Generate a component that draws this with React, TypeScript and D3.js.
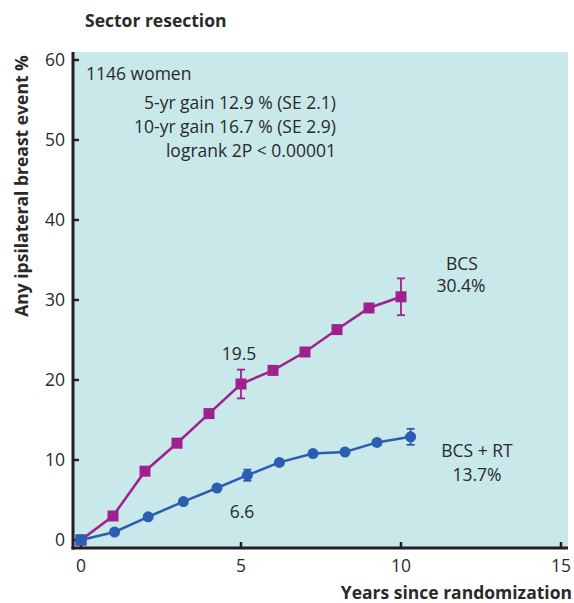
import React from "react";
import * as d3 from "d3";

// Cumulative risk of any ipsilateral breast event (%) by years since randomization
const bcsYears = [0, 1, 2, 3, 4, 5, 6, 7, 8, 9, 10];
const bcsValues = [0, 3.0, 8.6, 12.1, 15.8, 19.5, 21.2, 23.5, 26.3, 29.0, 30.4];
const rtYears = [0, 1.05, 2.1, 3.2, 4.25, 5.2, 6.2, 7.25, 8.25, 9.25, 10.3];
const rtValues = [0, 1.0, 2.9, 4.8, 6.5, 8.1, 9.7, 10.8, 11.0, 12.2, 12.9];

// Error bars (value ± SE) at 5 and 10 years
const bcsErrIdx = [5, 10];
const bcsErr = [1.8, 2.3];
const rtErrIdx = [5, 10];
const rtErr = [0.7, 1.0];

const xTicks = [0, 5, 10, 15];
const yTicks = [0, 10, 20, 30, 40, 50, 60];

const statLines = [
  "5-yr gain 12.9 % (SE 2.1)",
  "10-yr gain 16.7 % (SE 2.9)",
  "logrank 2P < 0.00001",
];

const W = 574;
const H = 603;
const FONT = "'Open Sans', 'Noto Sans', sans-serif";
const FS = 17.5;
const BG = "#c8e8ea";
const MAGENTA = "#a0208e";
const BLUE = "#2b5db2";
const INK = "#2a2a2a";
const AXIS = "#231f20";

export default function App() {
  const x = d3.scaleLinear().domain([0, 15]).range([81, 561]);
  const y = d3.scaleLinear().domain([0, 60]).range([540, 60]);

  const plotLeft = 73;
  const plotRight = 568;
  const plotTop = 52;
  const plotBottom = 548;

  const line = d3
    .line<[number, number]>()
    .x((d) => x(d[0]))
    .y((d) => y(d[1]));

  const bcsPts: [number, number][] = bcsYears.map((t, i) => [t, bcsValues[i]]);
  const rtPts: [number, number][] = rtYears.map((t, i) => [t, rtValues[i]]);

  const sq = 11;
  const r = 5.5;

  return (
    <svg
      width={W}
      height={H}
      style={{ position: "absolute", left: 0, top: 0, fontFamily: FONT }}
    >
      <rect width={W} height={H} fill="#ffffff" />
      <text x={85} y={27} fontSize={FS} fontWeight={700} fill={INK}>
        Sector resection
      </text>

      <rect
        x={plotLeft}
        y={plotTop}
        width={plotRight - plotLeft}
        height={plotBottom - plotTop}
        fill={BG}
      />

      {/* axes */}
      <line x1={plotLeft} x2={plotLeft} y1={plotTop} y2={plotBottom + 1.5} stroke={AXIS} strokeWidth={3} />
      <line x1={plotLeft - 1.5} x2={plotRight} y1={plotBottom} y2={plotBottom} stroke={AXIS} strokeWidth={3} />

      {yTicks.map((t) => (
        <g key={"y" + t}>
          <line x1={plotLeft} x2={plotLeft + 6} y1={y(t)} y2={y(t)} stroke={AXIS} strokeWidth={2.5} />
          <text x={65} y={y(t)} dy="0.36em" textAnchor="end" fontSize={FS} fill={INK}>
            {t}
          </text>
        </g>
      ))}
      {xTicks.map((t) => (
        <g key={"x" + t}>
          <line x1={x(t)} x2={x(t)} y1={plotBottom} y2={plotBottom - 6} stroke={AXIS} strokeWidth={2.5} />
          <text x={x(t)} y={572} textAnchor="middle" fontSize={FS} fill={INK}>
            {t}
          </text>
        </g>
      ))}

      <text
        transform={`translate(28,186) rotate(-90)`}
        textAnchor="middle"
        fontSize={FS}
        fontWeight={700}
        fill={INK}
      >
        Any ipsilateral breast event %
      </text>
      <text x={572} y={599} textAnchor="end" fontSize={FS} fontWeight={700} fill={INK}>
        Years since randomization
      </text>

      {/* annotations */}
      <text x={86} y={80} fontSize={FS} fill={INK}>
        1146 women
      </text>
      {statLines.map((s, i) => (
        <text key={s} x={336} y={109 + i * 24} textAnchor="end" fontSize={FS} fill={INK}>
          {s}
        </text>
      ))}

      {/* BCS series */}
      <path d={line(bcsPts) || ""} fill="none" stroke={MAGENTA} strokeWidth={2.5} />
      {bcsErrIdx.map((idx, k) => {
        const cx = x(bcsYears[idx]);
        const y1 = y(bcsValues[idx] + bcsErr[k]);
        const y2 = y(bcsValues[idx] - bcsErr[k]);
        return (
          <g key={"be" + idx} stroke={MAGENTA} strokeWidth={1.8}>
            <line x1={cx} x2={cx} y1={y1} y2={y2} />
            <line x1={cx - 4} x2={cx + 4} y1={y1} y2={y1} />
            <line x1={cx - 4} x2={cx + 4} y1={y2} y2={y2} />
          </g>
        );
      })}
      {bcsPts.map((p, i) => (
        <rect
          key={"bs" + i}
          x={x(p[0]) - sq / 2}
          y={y(p[1]) - sq / 2}
          width={sq}
          height={sq}
          fill={MAGENTA}
        />
      ))}

      {/* BCS + RT series */}
      <path d={line(rtPts) || ""} fill="none" stroke={BLUE} strokeWidth={2.5} />
      {rtErrIdx.map((idx, k) => {
        const cx = x(rtYears[idx]);
        const y1 = y(rtValues[idx] + rtErr[k]);
        const y2 = y(rtValues[idx] - rtErr[k]);
        return (
          <g key={"re" + idx} stroke={BLUE} strokeWidth={1.8}>
            <line x1={cx} x2={cx} y1={y1} y2={y2} />
            <line x1={cx - 4} x2={cx + 4} y1={y1} y2={y1} />
            <line x1={cx - 4} x2={cx + 4} y1={y2} y2={y2} />
          </g>
        );
      })}
      {rtPts.map((p, i) => (
        <circle key={"rc" + i} cx={x(p[0])} cy={y(p[1])} r={r} fill={BLUE} />
      ))}
      {/* origin square drawn on top */}
      <rect x={x(0) - sq / 2} y={y(0) - sq / 2} width={sq} height={sq} fill={BLUE} />

      {/* value labels */}
      <text x={x(bcsYears[5]) - 2} y={360} textAnchor="middle" fontSize={FS} fill={INK}>
        {bcsValues[5].toFixed(1)}
      </text>
      <text x={x(5) + 1} y={518} textAnchor="middle" fontSize={FS} fill={INK}>
        6.6
      </text>
      <text x={462} y={270} textAnchor="middle" fontSize={FS} fill={INK}>
        BCS
      </text>
      <text x={461} y={292} textAnchor="middle" fontSize={FS} fill={INK}>
        {bcsValues[10].toFixed(1)}%
      </text>
      <text x={477} y={457} textAnchor="middle" fontSize={FS} fill={INK}>
        BCS + RT
      </text>
      <text x={477} y={481} textAnchor="middle" fontSize={FS} fill={INK}>
        13.7%
      </text>
    </svg>
  );
}
